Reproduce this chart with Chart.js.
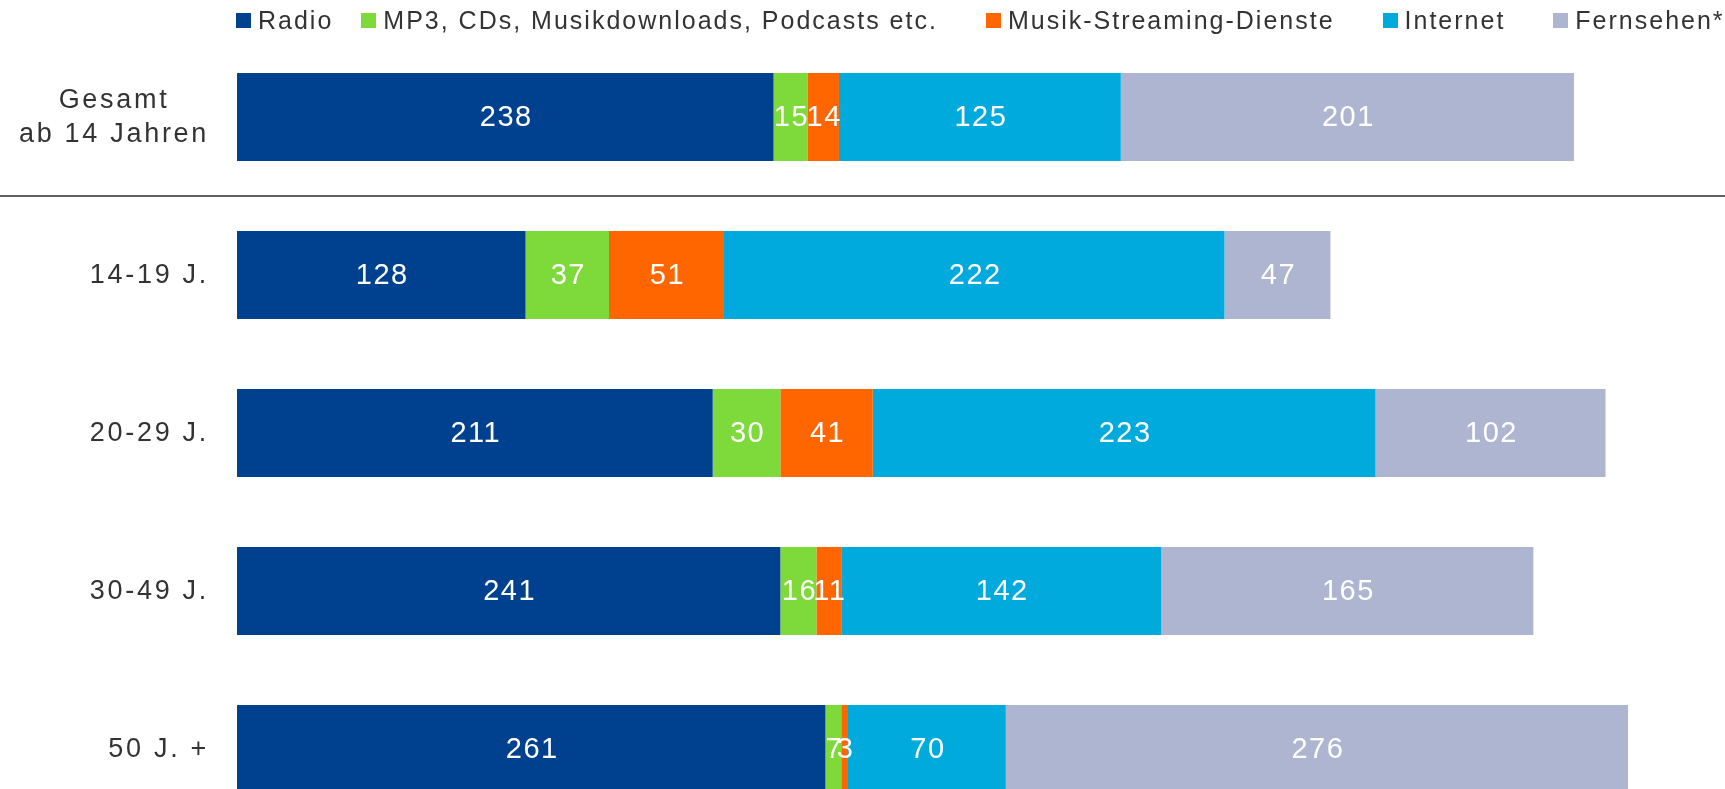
<!DOCTYPE html>
<html>
<head>
<meta charset="utf-8">
<script src="https://cdn.jsdelivr.net/npm/chart.js@4.4.1/dist/chart.umd.min.js"></script>
<style>
    html, body { margin: 0; padding: 0; background: #fff; overflow: hidden; }
    #wrap { position: relative; width: 1725px; height: 830px; }
    #legend {
        position: absolute; left: 236px; top: 6px;
        display: flex; align-items: center; white-space: nowrap;
        font: 25px "Liberation Sans", Arial, sans-serif; letter-spacing: 2px; color: #333;
    }
    .item { display: flex; align-items: center; margin-left: 48px; }
    .item:first-child { margin-left: 0; }
    .item:nth-child(2) { margin-left: 28px; }
    .box { width: 15px; height: 15px; margin-right: 7px; }
</style>
</head>
<body>
<div id="wrap">
    <div id="legend"></div>
    <canvas id="chart"></canvas>
</div>
<script>
const categories = [['Gesamt', 'ab 14 Jahren'], '14-19 J.', '20-29 J.', '30-49 J.', '50 J. +'];
const seriesNames = ['Radio', 'MP3, CDs, Musikdownloads, Podcasts etc.', 'Musik-Streaming-Dienste', 'Internet', 'Fernsehen*'];
const radio = [238, 128, 211, 241, 261];
const mp3 = [15, 37, 30, 16, 7];
const streaming = [14, 51, 41, 11, 3];
const internet = [125, 222, 223, 142, 70];
const fernsehen = [201, 47, 102, 165, 276];
const colors = ['#00418f', '#7ed93a', '#ff6600', '#00aadc', '#aeb5d0'];

const FONT = '"Liberation Sans", Arial, sans-serif';

// white numbers in the middle of each segment
const valueLabels = {
    id: 'valueLabels',
    afterDatasetsDraw(chart) {
        const ctx = chart.ctx;
        ctx.save();
        ctx.font = '29px ' + FONT;
        ctx.letterSpacing = '1.5px';
        ctx.fillStyle = '#fff';
        ctx.textAlign = 'center';
        ctx.textBaseline = 'middle';
        chart.data.datasets.forEach((ds, i) => {
            chart.getDatasetMeta(i).data.forEach((bar, j) => {
                const p = bar.getCenterPoint();
                ctx.fillText(String(ds.data[j]), p.x + 1, p.y + 1);
            });
        });
        ctx.restore();
    }
};

// category labels (multi-line ones centred on each other) and the separator line
const categoryLabels = {
    id: 'categoryLabels',
    afterDraw(chart) {
        const ctx = chart.ctx;
        const y = chart.scales.y;
        ctx.save();
        ctx.font = '27px ' + FONT;
        ctx.letterSpacing = '2.7px';
        ctx.fillStyle = '#333';
        ctx.textAlign = 'center';
        ctx.textBaseline = 'middle';
        const right = chart.chartArea.left - 28;
        categories.forEach((cat, i) => {
            const lines = Array.isArray(cat) ? cat : [cat];
            const maxW = Math.max(...lines.map(l => ctx.measureText(l).width));
            const yc = y.getPixelForValue(i) + 1;
            lines.forEach((l, k) => {
                ctx.fillText(l, right - maxW / 2, yc + (k - (lines.length - 1) / 2) * 34);
            });
        });
        // line between Gesamt and the age groups
        const sepY = Math.round((y.getPixelForValue(0) + y.getPixelForValue(1)) / 2);
        ctx.strokeStyle = '#606060';
        ctx.lineWidth = 2;
        ctx.beginPath();
        ctx.moveTo(0, sepY);
        ctx.lineTo(chart.width, sepY);
        ctx.stroke();
        ctx.restore();
    }
};

const seriesData = [radio, mp3, streaming, internet, fernsehen];

const chart = new Chart(document.getElementById('chart'), {
    type: 'bar',
    data: {
        labels: categories,
        datasets: seriesNames.map((name, i) => ({
            label: name,
            data: seriesData[i],
            backgroundColor: colors[i],
            borderWidth: 0,
            barPercentage: 0.557,
            categoryPercentage: 1
        }))
    },
    options: {
        indexAxis: 'y',
        responsive: true,
        maintainAspectRatio: false,
        animation: false,
        layout: { padding: { left: 237, top: 38, right: 0, bottom: 2 } },
        scales: {
            x: { stacked: true, display: false, min: 0, max: 660 },
            y: { stacked: true, display: false }
        },
        plugins: {
            legend: { display: false },
            tooltip: { enabled: false }
        }
    },
    plugins: [valueLabels, categoryLabels]
});

// legend as html
const legendEl = document.getElementById('legend');
chart.data.datasets.forEach(ds => {
    const item = document.createElement('div');
    item.className = 'item';
    const box = document.createElement('span');
    box.className = 'box';
    box.style.background = ds.backgroundColor;
    const text = document.createElement('span');
    text.textContent = ds.label;
    item.appendChild(box);
    item.appendChild(text);
    legendEl.appendChild(item);
});
</script>
</body>
</html>
